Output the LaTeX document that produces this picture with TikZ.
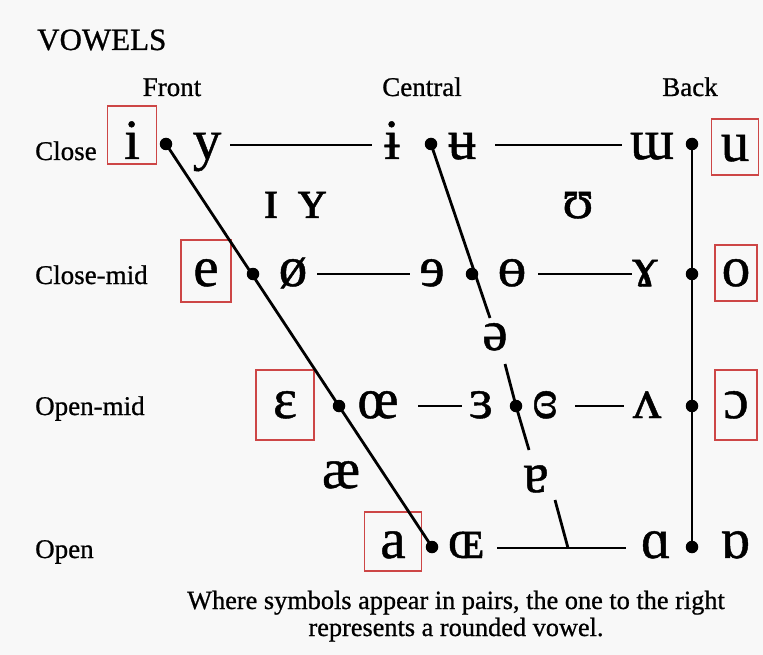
\documentclass[tikz,border=0pt]{standalone}
\usepackage{fontspec}
\setmainfont[FakeBold=0.8]{Liberation Serif}
\definecolor{boxred}{RGB}{205,70,70}
\definecolor{paper}{RGB}{248,248,248}
\begin{document}
\begin{tikzpicture}[x=1pt,y=-1pt,
  ipa/.style={font=\fontsize{57}{57}\selectfont, inner sep=0pt, anchor=base},
  lab/.style={font=\fontsize{27}{30}\selectfont, inner sep=0pt, anchor=base},
  captxt/.style={font=\fontsize{26.3}{30}\selectfont, inner sep=0pt, anchor=base},
  boxed/.style={draw=boxred, line width=1.4pt, align=center},
  dotn/.style={circle, fill=black, inner sep=0pt, minimum size=12.5pt},
  conn/.style={line width=2.8pt},
  hline/.style={line width=2pt}]
\fill[paper] (0,0) rectangle (763,655);
\useasboundingbox (0,0) rectangle (763,655);

% titles
\node[lab, anchor=base west, font=\fontsize{31}{32}\selectfont] (title) at (37,50) {VOWELS};
\node[lab] (front) at (172,96) {Front};
\node[lab] (central) at (422,96) {Central};
\node[lab] (back) at (690,96) {Back};
\node[lab, anchor=base west] (rclose) at (35,160) {Close};
\node[lab, anchor=base west] (rclosemid) at (35,284) {Close-mid};
\node[lab, anchor=base west] (ropenmid) at (35,415) {Open-mid};
\node[lab, anchor=base west] (ropen) at (35,558) {Open};

% close row
\node[ipa, boxed, text width=49pt, text height=53pt, text depth=5pt] (i) at (132,159) {i};
\node[ipa] (y) at (207,159) {y};
\node[ipa] (ibar) at (392,159) {ɨ};
\node[ipa] (ubar) at (462,159) {ʉ};
\node[ipa] (mw) at (652,159) {ɯ};
\node[ipa, boxed, text width=47pt, text height=42pt, text depth=14pt] (u) at (735,161) {u};
\node[ipa] (smallI) at (271,218) {ɪ};
\node[ipa] (smallY) at (312,218) {ʏ};
\node[ipa] (upsilon) at (578,218) {ʊ};

% close-mid row
\node[ipa, boxed, text width=50pt, text height=46pt, text depth=16pt] (e) at (206,286) {e};
\node[ipa] (oslash) at (293,286) {ø};
\node[ipa] (revE) at (432,286) {ɘ};
\node[ipa] (obar) at (512,286) {ɵ};
\node[ipa] (gamma) at (645,286) {ɤ};
\node[ipa, boxed, text width=42pt, text height=41pt, text depth=15pt] (o) at (736,286) {o};
\node[ipa] (schwa) at (495,350) {ə};

% open-mid row
\node[ipa, boxed, text width=58pt, text height=48pt, text depth=22pt] (epsilon) at (285,418) {ɛ};
\node[ipa] (oe) at (378,418) {œ};
\node[ipa] (revEps) at (481,418) {ɜ};
\node[ipa] (closedRevEps) at (545,418) {ɞ};
\node[ipa] (turnedV) at (647,418) {ʌ};
\node[ipa, boxed, text width=42pt, text height=48pt, text depth=22pt] (openO) at (736,418) {ɔ};
\node[ipa] (ash) at (341,488) {æ};
\node[ipa] (turnedA) at (536,492) {ɐ};

% open row
\node[ipa, boxed, text width=57pt, text height=46pt, text depth=13pt] (a) at (393,558) {a};
\node[ipa] (OE) at (466,558) {ɶ};
\node[ipa] (alpha) at (656,558) {ɑ};
\node[ipa] (turnedAlpha) at (735,558) {ɒ};

% dots
\node[dotn] (d1) at (166,144) {};
\node[dotn] (d2) at (253,274) {};
\node[dotn] (d3) at (339,406) {};
\node[dotn] (d4) at (432,547) {};
\node[dotn] (c1) at (431,144) {};
\node[dotn] (c2) at (472,274) {};
\node[dotn] (c3) at (516,406) {};
\node[dotn] (b1) at (692,144) {};
\node[dotn] (b2) at (692,274) {};
\node[dotn] (b3) at (692,406) {};
\node[dotn] (b4) at (692,547) {};

% gap ends on the central line and line ends
\coordinate (cg1) at (490,318);
\coordinate (cg2) at (505,364);
\coordinate (cg3) at (529,450);
\coordinate (cg4) at (555,500);
\coordinate (cbot) at (568,548);
\coordinate (h1a) at (230,145); \coordinate (h1b) at (372,145);
\coordinate (h2a) at (495,145); \coordinate (h2b) at (622,145);
\coordinate (h3a) at (317,274); \coordinate (h3b) at (410,274);
\coordinate (h4a) at (538,274); \coordinate (h4b) at (632,274);
\coordinate (h5a) at (418,406); \coordinate (h5b) at (462,406);
\coordinate (h6a) at (575,406); \coordinate (h6b) at (624,406);
\coordinate (h7a) at (497,548); \coordinate (h7b) at (626,548);

% connectors
\draw[conn] (d1.center) -- (d4.center);
\draw[conn] (c1.center) -- (cg1);
\draw[conn] (cg2) -- (c3.center) -- (cg3);
\draw[conn] (cg4) -- (cbot);
\draw[conn] (b1.center) -- (b4.center);
\draw[hline] (h1a) -- (h1b);
\draw[hline] (h2a) -- (h2b);
\draw[hline] (h3a) -- (h3b);
\draw[hline] (h4a) -- (h4b);
\draw[hline] (h5a) -- (h5b);
\draw[hline] (h6a) -- (h6b);
\draw[hline] (h7a) -- (h7b);

% caption
\node[captxt] (cap1) at (456,609) {Where symbols appear in pairs, the one to the right};
\node[captxt] (cap2) at (456,636) {represents a rounded vowel.};
\end{tikzpicture}
\end{document}
